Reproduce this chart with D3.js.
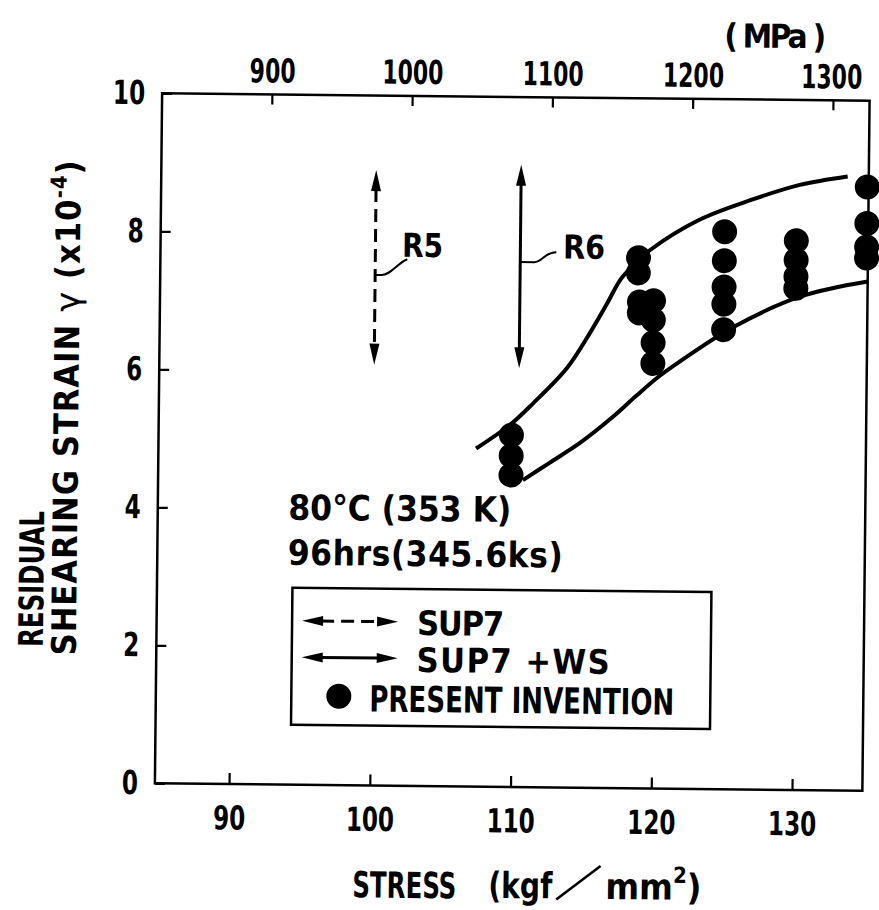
<!DOCTYPE html>
<html>
<head>
<meta charset="utf-8">
<script src="https://cdn.jsdelivr.net/npm/d3@7"></script>
<style>
  body { margin: 0; background: #fff; }
  svg text { font-family: "Liberation Sans Narrow", "DejaVu Sans Condensed", sans-serif; font-weight: bold; fill: #000; }
</style>
</head>
<body>
<svg id="chart" width="879" height="910"></svg>
<script>
// stress in kgf/mm2, strain in 1e-4
var stressTicks = [90, 100, 110, 120, 130];
var mpaTicks = [900, 1000, 1100, 1200, 1300];
var strainTicks = [0, 2, 4, 6, 8, 10];

var upperStress = [107.3, 109.7, 111.3, 113.7, 115.3, 116.5, 117.4, 118.2, 119.5, 123.0, 126.6, 130.1, 133.5];
var upperStrain = [4.90, 5.25, 5.56, 6.08, 6.59, 7.02, 7.36, 7.55, 7.80, 8.25, 8.54, 8.77, 8.90];

var lowerStress = [110.65, 112.5, 114.7, 117.0, 118.6, 120.1, 121.7, 125.5, 130.2, 135.0];
var lowerStrain = [4.45, 4.70, 5.00, 5.38, 5.68, 5.95, 6.19, 6.70, 7.15, 7.38];

var inventionStress = [109.8, 109.8, 109.8, 118.7, 118.7, 118.8, 118.8, 119.8, 119.8, 119.8, 119.8,
                       124.8, 124.8, 124.8, 124.8, 124.8, 129.9, 129.9, 129.9, 129.9, 134.9, 134.9, 134.9, 134.9];
var inventionStrain = [5.10, 4.80, 4.52, 7.69, 7.47, 7.05, 6.89, 7.07, 6.79, 6.46, 6.16,
                       8.08, 7.66, 7.28, 7.03, 6.66, 7.96, 7.68, 7.44, 7.27, 8.75, 8.22, 7.88, 7.72];

var rangeNames = ['R5', 'R6'];
var rangeStress = [100.0, 110.3];
var rangeLow = [6.10, 6.07];
var rangeHigh = [8.92, 9.02];
var rangeDashed = [true, false];

var svg = d3.select('#chart');

// the scan is turned a little clockwise
var g = svg.append('g').attr('transform', 'rotate(0.6,512,441)');

var x = d3.scaleLinear().domain([84.73, 135]).range([158.5, 866]);
var y = d3.scaleLinear().domain([0, 10]).range([787, 97]);
// MPa scale as drawn on the figure
var xMpa = d3.scaleLinear().domain([900, 1300]).range([x(92.53), x(132.4)]);

// squeeze text to look like the narrow lettering of the drawing
function condense(sel, f) {
    sel.each(function () {
        var w = this.getComputedTextLength();
        d3.select(this).attr('textLength', w * f).attr('lengthAdjust', 'spacingAndGlyphs');
    });
}

var fontTick = 33;

var axB = g.append('g').attr('transform', 'translate(0,' + y(0) + ')')
    .call(d3.axisBottom(x).tickValues(stressTicks).tickSize(-11).tickPadding(22));
var axT = g.append('g').attr('transform', 'translate(0,' + y(10) + ')')
    .call(d3.axisTop(xMpa).tickValues(mpaTicks).tickFormat(d3.format('d')).tickSize(-10).tickPadding(12));
var axL = g.append('g').attr('transform', 'translate(' + x.range()[0] + ',0)')
    .call(d3.axisLeft(y).tickValues(strainTicks).tickSize(-10).tickPadding(17));

[axB, axT, axL].forEach(function (a) {
    a.select('.domain').remove();
    a.selectAll('line').attr('stroke', '#000').attr('stroke-width', 2.2);
    a.selectAll('text').attr('font-size', fontTick).attr('fill', '#000');
    condense(a.selectAll('text'), a === axT ? 0.74 : 0.78);
});

// last MPa label sits against the frame: anchor it at its right end
axT.selectAll('.tick text')
    .filter(function (d) { return d === 1300; })
    .each(function () {
        var w = +d3.select(this).attr('textLength');
        d3.select(this).attr('text-anchor', 'end').attr('x', w / 2 - 2);
    });

// frame
g.append('rect')
    .attr('x', x.range()[0]).attr('y', y(10))
    .attr('width', x.range()[1] - x.range()[0])
    .attr('height', y(0) - y(10))
    .attr('fill', 'none').attr('stroke', '#000').attr('stroke-width', 2.5);

// envelope curves
var line = d3.line()
    .x(function (d) { return x(d[0]); })
    .y(function (d) { return y(d[1]); })
    .curve(d3.curveCatmullRom.alpha(0.5));

g.append('path')
    .datum(d3.zip(upperStress, upperStrain))
    .attr('d', line).attr('fill', 'none').attr('stroke', '#000').attr('stroke-width', 4);
g.append('path')
    .datum(d3.zip(lowerStress, lowerStrain))
    .attr('d', line).attr('fill', 'none').attr('stroke', '#000').attr('stroke-width', 4);

// present invention dots
g.selectAll('.dot')
    .data(d3.zip(inventionStress, inventionStrain))
    .enter().append('circle')
    .attr('class', 'dot')
    .attr('cx', function (d) { return x(d[0]); })
    .attr('cy', function (d) { return y(d[1]); })
    .attr('r', 12.5)
    .attr('fill', '#000');

// double headed arrow
function arrow(parent, x1, y1, x2, y2, dashed) {
    var len = 21, half = 5;
    var dx = x2 - x1, dy = y2 - y1, L = Math.sqrt(dx * dx + dy * dy);
    var ux = dx / L, uy = dy / L;
    parent.append('line')
        .attr('x1', x1 + ux * (len - 2)).attr('y1', y1 + uy * (len - 2))
        .attr('x2', x2 - ux * (len - 2)).attr('y2', y2 - uy * (len - 2))
        .attr('stroke', '#000').attr('stroke-width', 3)
        .attr('stroke-dasharray', dashed ? '13,7' : null);
    [[x1, y1, 1], [x2, y2, -1]].forEach(function (p) {
        var bx = p[0] + ux * len * p[2], by = p[1] + uy * len * p[2];
        parent.append('path')
            .attr('d', 'M' + p[0] + ',' + p[1] +
                'L' + (bx - uy * half) + ',' + (by + ux * half) +
                'L' + (bx + uy * half) + ',' + (by - ux * half) + 'Z')
            .attr('fill', '#000');
    });
}

rangeNames.forEach(function (name, i) {
    var ax = x(rangeStress[i]);
    arrow(g, ax, y(rangeHigh[i]), ax, y(rangeLow[i]), rangeDashed[i]);
});

// R labels with leaders
var ay5 = y(7.40), ax5 = x(rangeStress[0]);
g.append('path')
    .attr('d', 'M' + ax5 + ',' + ay5 + 'h6 C' + (ax5 + 16) + ',' + ay5 + ' ' + (ax5 + 22) + ',' + (ay5 - 12) + ' ' + (ax5 + 32) + ',' + (ay5 - 16))
    .attr('fill', 'none').attr('stroke', '#000').attr('stroke-width', 2);
g.append('text').attr('x', 400).attr('y', 258).attr('font-size', 33)
    .attr('textLength', 41).attr('lengthAdjust', 'spacingAndGlyphs').text(rangeNames[0]);

var ay6 = y(7.61), ax6 = x(rangeStress[1]);
g.append('path')
    .attr('d', 'M' + ax6 + ',' + ay6 + 'h14 C' + (ax6 + 22) + ',' + ay6 + ' ' + (ax6 + 24) + ',' + (ay6 - 10) + ' ' + (ax6 + 36) + ',' + (ay6 - 10))
    .attr('fill', 'none').attr('stroke', '#000').attr('stroke-width', 2);
g.append('text').attr('x', 561).attr('y', 258).attr('font-size', 33)
    .attr('textLength', 42).attr('lengthAdjust', 'spacingAndGlyphs').text(rangeNames[1]);

// test conditions
g.append('text').attr('x', 289).attr('y', 522).attr('font-size', 35)
    .attr('textLength', 223).attr('lengthAdjust', 'spacing').text('80°C  (353 K)');
g.append('text').attr('x', 289).attr('y', 567).attr('font-size', 35)
    .attr('textLength', 275).attr('lengthAdjust', 'spacing').text('96hrs(345.6ks)');

// legend
var lg = g.append('g');
lg.append('rect').attr('x', 294).attr('y', 590).attr('width', 419).attr('height', 137)
    .attr('fill', 'none').attr('stroke', '#000').attr('stroke-width', 2.5);
arrow(lg, 304, 623, 400, 623, true);
arrow(lg, 304, 659.5, 400, 659.5, false);
lg.append('circle').attr('cx', 341.5).attr('cy', 698).attr('r', 12.5).attr('fill', '#000');
lg.append('text').attr('x', 419).attr('y', 636).attr('font-size', 34)
    .attr('textLength', 87).attr('lengthAdjust', 'spacing').text('SUP7');
lg.append('text').attr('x', 419).attr('y', 673).attr('font-size', 34)
    .attr('textLength', 193).attr('lengthAdjust', 'spacing').text('SUP7  +WS');
lg.append('text').attr('x', 372).attr('y', 713).attr('font-size', 36)
    .attr('textLength', 305).attr('lengthAdjust', 'spacingAndGlyphs').text('PRESENT  INVENTION');

// unit label of the top axis
g.append('text').attr('x', 720).attr('y', 45).attr('font-size', 33)
    .attr('textLength', 102).attr('lengthAdjust', 'spacing').text('( MPa )');

// x axis title
g.append('text').attr('x', 357).attr('y', 899).attr('font-size', 36)
    .attr('textLength', 104).attr('lengthAdjust', 'spacingAndGlyphs').text('STRESS');
g.append('text').attr('x', 493).attr('y', 898).attr('font-size', 36)
    .attr('textLength', 64).attr('lengthAdjust', 'spacingAndGlyphs').text('(kgf');
g.append('line').attr('x1', 561).attr('y1', 899).attr('x2', 605).attr('y2', 865)
    .attr('stroke', '#000').attr('stroke-width', 2.6);
var mm = g.append('text').attr('x', 610).attr('y', 898).attr('font-size', 36);
mm.append('tspan').text('mm');
mm.append('tspan').attr('font-size', 22).attr('dy', -17).text('2');
mm.append('tspan').attr('dy', 17).text(')');

// y axis title
g.append('text').attr('transform', 'translate(45,652) rotate(-90)').attr('font-size', 34)
    .attr('textLength', 136).attr('lengthAdjust', 'spacingAndGlyphs').text('RESIDUAL');
var yt = g.append('text').attr('transform', 'translate(78,660) rotate(-90)').attr('font-size', 34)
    .attr('textLength', 495).attr('lengthAdjust', 'spacing');
yt.append('tspan').text('SHEARING   STRAIN   ');
yt.append('tspan').attr('font-weight', 'normal').attr('font-family', 'DejaVu Sans').text('γ');
yt.append('tspan').text('  (x10');
yt.append('tspan').attr('font-size', 22).attr('dy', -14).text('-4');
yt.append('tspan').attr('dy', 14).text(')');
</script>
</body>
</html>
